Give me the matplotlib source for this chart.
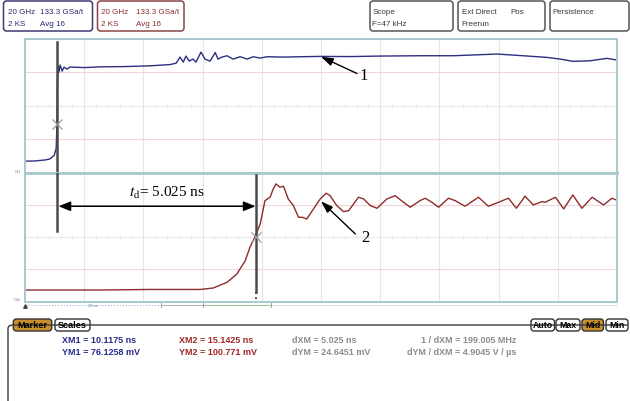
import matplotlib.pyplot as plt
from matplotlib.patches import FancyBboxPatch

plt.rcParams['font.family'] = ['Liberation Sans', 'DejaVu Sans']
plt.rcParams['mathtext.fontset'] = 'stix'

# Channel 1 (blue) trace: time in ns, level in mV
top_t = [9.30, 9.55, 9.81, 9.93, 10.04, 10.09, 10.11, 10.12, 10.14, 10.16,
         10.19, 10.24, 10.29, 10.36, 10.44, 10.82, 11.20, 11.83, 12.47, 12.98,
         13.13, 13.23, 13.31, 13.38, 13.46, 13.56, 13.63, 13.76, 13.86, 13.99,
         14.12, 14.19, 14.29, 14.42, 14.57, 14.75, 14.93, 15.08, 15.26, 15.43,
         15.84, 16.27, 16.78, 17.54, 18.30, 19.31, 20.15, 21.26, 21.92, 22.53,
         22.86, 23.19, 23.62, 24.05, 24.26]
top_mv = [32.3, 32.5, 33.7, 34.9, 39.1, 47.5, 76.1, 123.9, 145.4, 138.2,
          146.6, 139.4, 144.2, 141.8, 144.2, 143.6, 144.5, 144.8, 145.7, 147.2,
          148.9, 156.1, 150.1, 157.3, 151.3, 153.7, 150.1, 162.0, 153.7, 151.3,
          161.5, 153.7, 156.1, 157.7, 153.7, 156.5, 153.7, 156.5, 154.9, 156.5,
          156.1, 156.5, 156.9, 156.7, 157.3, 157.7, 157.7, 159.7, 157.7, 155.7,
          153.7, 151.0, 151.7, 154.6, 152.9]

# Channel 2 (red) trace
bot_t = [9.30, 11.20, 12.47, 13.74, 14.07, 14.42, 14.67, 14.88, 15.00, 15.13,
         15.26, 15.38, 15.51, 15.59, 15.66, 15.76, 15.85, 15.97, 16.10, 16.23,
         16.32, 16.44, 16.61, 16.78, 16.93, 17.03, 17.20, 17.37, 17.50, 17.75,
         17.88, 18.05, 18.22, 18.47, 18.68, 18.89, 19.06, 19.31, 19.44, 19.61,
         19.78, 20.03, 20.20, 20.45, 20.79, 21.04, 21.30, 21.55, 21.75, 21.97,
         22.18, 22.40, 22.48, 22.74, 22.95, 23.18, 23.41, 23.67, 23.96, 24.17,
         24.26]
bot_mv = [34.3, 34.3, 35.0, 35.0, 36.8, 43.9, 54.3, 70.8, 87.5, 100.8,
          116.6, 145.6, 149.8, 160.2, 166.4, 162.3, 163.5, 147.7, 139.4, 124.9,
          124.9, 122.8, 135.3, 147.7, 154.8, 151.8, 139.4, 131.9, 133.1, 149.8,
          147.7, 139.4, 136.1, 147.7, 151.8, 143.6, 137.4, 145.6, 148.6, 143.6,
          137.4, 148.6, 145.6, 138.6, 149.8, 138.6, 143.6, 148.6, 136.1, 151.1,
          140.2, 144.4, 143.6, 149.8, 135.3, 152.7, 136.1, 149.8, 140.2, 148.6,
          146.8]

xm1, ym1 = 10.1175, 76.1258
xm2, ym2 = 15.1425, 100.771

t_span = (9.3, 24.3)
top_lim = (18.2, 178.2)
bot_lim = (20.0, 180.0)

fig = plt.figure(figsize=(6.3, 4.02), dpi=100)


def px(x0, y0, x1, y1):
    return [x0 / 630, 1 - y1 / 402, (x1 - x0) / 630, (y1 - y0) / 402]


# screen chrome drawn in pixel units
ui = fig.add_axes([0, 0, 1, 1])
ui.set_xlim(0, 630)
ui.set_ylim(402, 0)
ui.axis('off')
ui.set_zorder(-1)


def box(x0, y0, x1, y1, ec, fc='white', lw=1.1, r=3):
    ui.add_patch(FancyBboxPatch((x0, y0), x1 - x0, y1 - y0,
                                boxstyle='round,pad=0,rounding_size=%g' % r,
                                ec=ec, fc=fc, lw=lw))


hdr = 5.8
box(3.5, 2, 92.5, 32, '#3a3a72')
for x, y, s in [(8, 13, '20 GHz'), (40, 13, '133.3 GSa/t'),
                (8, 25, '2 KS'), (40, 25, 'Avg 16')]:
    ui.text(x, y, s, color='#2b2b6e', fontsize=hdr, va='center')
box(97.5, 2, 184, 32, '#8a4646')
for x, y, s in [(101, 13, '20 GHz'), (136, 13, '133.3 GSa/t'),
                (101, 25, '2 KS'), (136, 25, 'Avg 16')]:
    ui.text(x, y, s, color='#8b2e2e', fontsize=hdr, va='center')
box(370, 2, 453, 32, '#555555')
ui.text(372.5, 13, 'Scope', color='#3a3a3a', fontsize=hdr, va='center')
ui.text(372.5, 25, 'F=47 kHz', color='#3a3a3a', fontsize=hdr, va='center')
box(458, 2, 545, 32, '#555555')
ui.text(461.5, 13, 'Ext Direct', color='#3a3a3a', fontsize=hdr, va='center')
ui.text(510, 13, 'Pos', color='#3a3a3a', fontsize=hdr, va='center')
ui.text(461.5, 25, 'Freerun', color='#3a3a3a', fontsize=hdr, va='center')
box(550, 2, 629, 32, '#555555')
ui.text(552.5, 13, 'Persistence', color='#3a3a3a', fontsize=hdr, va='center')

# small screen labels and the time bar under the grid
ui.text(18, 172, 'CH', fontsize=3, color='#777777', ha='center', va='center')
ui.text(18, 300.5, 'C2e', fontsize=3, color='#777777', ha='center', va='center')
ui.plot([25, 161], [306, 306], color='#9fb8d8', lw=0.8, ls=':')
ui.plot([161, 203], [306, 306], color='#b0b0b0', lw=0.7)
ui.plot([203, 271], [306, 306], color='#9cc89c', lw=0.8)
ui.plot([271, 617], [306, 306], color='#d4e0e3', lw=0.7)
for x in [161, 203, 271]:
    ui.plot([x, x], [304, 308], color='#a0a0a0', lw=0.7)
ui.plot([25], [306.5], marker='^', ms=2.5, color='#444444')
ui.text(93, 306, '20 ns', fontsize=3, color='#6a7aa8', ha='center', va='center')

# marker panel frame and tabs
ui.plot([8, 8, 9, 12, 627], [402, 329, 327, 326, 326], color='#3a3a3a', lw=1)
box(13.3, 320, 51.7, 332, '#333333', fc='#c8902c', lw=1)
ui.text(32.5, 326, 'Marker', fontsize=6.6, weight='bold', ha='center', va='center')
box(55, 320, 90, 332, '#333333', lw=1)
ui.text(72.5, 326, 'Scales', fontsize=6.6, weight='bold', ha='center', va='center')
for x0, x1, s, fc in [(531, 554.5, 'Auto', 'white'), (556, 580, 'Max', 'white'),
                      (582, 603.5, 'Mid', '#c8902c'), (606, 628, 'Min', 'white')]:
    box(x0, 320, x1, 332, '#333333', fc=fc, lw=1)
    ui.text((x0 + x1) / 2, 326, s, fontsize=6.3, weight='bold',
            ha='center', va='center')

mk = 6.5
ui.text(61.5, 340.5, 'XM1 = %.4f ns' % xm1, color='#2b2b8c', fontsize=mk,
        weight='bold', va='center')
ui.text(61.5, 352.5, 'YM1 = %.4f mV' % ym1, color='#2b2b8c', fontsize=mk,
        weight='bold', va='center')
ui.text(179, 340.5, 'XM2 = %.4f ns' % xm2, color='#a02828', fontsize=mk,
        weight='bold', va='center')
ui.text(179, 352.5, 'YM2 = %.3f mV' % ym2, color='#a02828', fontsize=mk,
        weight='bold', va='center')
ui.text(292, 340.5, 'dXM = 5.025 ns', color='#8c8c8c', fontsize=mk,
        weight='bold', va='center')
ui.text(292, 352.5, 'dYM = 24.6451 mV', color='#8c8c8c', fontsize=mk,
        weight='bold', va='center')
ui.text(516, 340.5, '1 / dXM = 199.005 MHz', color='#8c8c8c', fontsize=mk,
        weight='bold', va='center', ha='right')
ui.text(516, 352.5, 'dYM / dXM = 4.9045 V / \u00b5s', color='#8c8c8c',
        fontsize=mk, weight='bold', va='center', ha='right')

# the two scope panels
ax1 = fig.add_axes(px(25, 39.5, 617, 174))
ax2 = fig.add_axes(px(25, 174, 617, 302.5))
for ax, lim in [(ax1, top_lim), (ax2, bot_lim)]:
    ax.set_xlim(*t_span)
    ax.set_ylim(*lim)
    ax.set_xticks([])
    ax.set_yticks([])
    for sp in ax.spines.values():
        sp.set_color('#a8c9ce')
        sp.set_linewidth(1.4)
    for k in range(1, 10):
        ax.axvline(t_span[0] + 1.5 * k, color='#e6e6e6', lw=0.8, zorder=0)
    for j in (1, 3):
        ax.axhline(lim[0] + 40 * j, color='#f0d6d6', lw=0.8, zorder=0)
    mid = lim[0] + 80
    ax.axhline(mid, color='#ebebeb', lw=0.8, zorder=0)
    ax.plot([t_span[0] + 0.3 * k for k in range(1, 50)], [mid] * 49,
            ls='none', marker='|', ms=2.2, mew=0.5, color='#e2e2e2', zorder=0)
ax1.spines['bottom'].set_linewidth(2)
ax2.spines['top'].set_linewidth(2)

ax1.plot(top_t, top_mv, color='#2e2e82', lw=1)
ax2.plot(bot_t, bot_mv, color='#8e2c2c', lw=1)

# marker lines and crosses
ax1.plot([xm1, xm1], [174.0, top_lim[0]], color='#4a4a4a', lw=1.8, zorder=4)
ax2.plot([xm1, xm1], [bot_lim[1], 108.2], color='#4a4a4a', lw=1.8, zorder=4)
ax2.plot([xm2, xm2], [177.6, 31.8], color='#4a4a4a', lw=1.8, zorder=4)
ax2.plot([xm2, xm2], [31.8, bot_lim[0]], color='#4a4a4a', lw=1.4, ls=':',
         zorder=4)
ax1.plot(xm1, ym1, marker='x', ms=7, mew=0.9, color='#9a9a9a', zorder=5)
ax2.plot(xm2, ym2, marker='x', ms=7, mew=0.9, color='#9a9a9a', zorder=5)

# delay annotation
ax2.annotate('', xy=(xm1 + 0.03, 138.6), xytext=(xm2, 138.6),
             arrowprops=dict(arrowstyle='<|-|>,head_length=0.45,head_width=0.18',
                             color='black', lw=1.1, mutation_scale=16,
                             shrinkA=0, shrinkB=0))
ax2.text(12.89, 156.1, r'$t_{\rm d}$= 5.025 ns', family='Liberation Serif',
         fontsize=11, ha='center', va='center')

# trace labels
ax1.annotate('', xy=(16.80, 156.5), xytext=(17.71, 136.6),
             arrowprops=dict(arrowstyle='-|>,head_length=0.6,head_width=0.2',
                             color='black', lw=1, mutation_scale=12,
                             shrinkA=0, shrinkB=0))
ax1.text(17.89, 134.6, '1', family='Liberation Serif', fontsize=12,
         ha='center', va='center')
ax2.annotate('', xy=(16.80, 144.8), xytext=(17.67, 104.1),
             arrowprops=dict(arrowstyle='-|>,head_length=0.6,head_width=0.2',
                             color='black', lw=1, mutation_scale=12,
                             shrinkA=0, shrinkB=0))
ax2.text(17.92, 100.0, '2', family='Liberation Serif', fontsize=12,
         ha='center', va='center')

fig.savefig('out.png', dpi=100)
